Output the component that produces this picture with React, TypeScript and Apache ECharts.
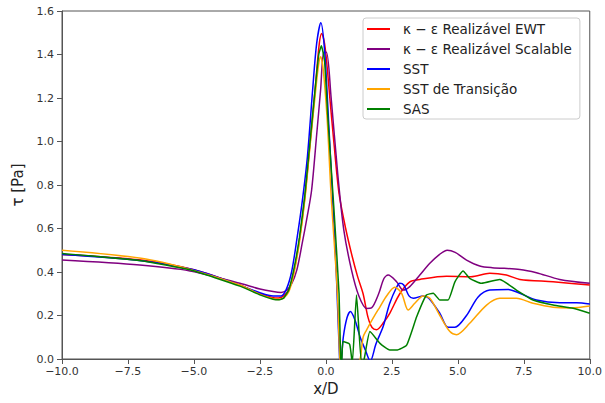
import React, { useEffect, useRef } from "react";
import * as echarts from "echarts";

const seriesNames = [
  "κ − ε Realizável EWT",
  "κ − ε Realizável Scalable",
  "SST",
  "SST de Transição",
  "SAS",
];
const seriesColors = ["#ff0000", "#800080", "#0000ff", "#ffa500", "#008000"];

const xTicks = [-10, -7.5, -5, -2.5, 0, 2.5, 5, 7.5, 10];

const redData = [
  [-10, 0.48], [-7, 0.455], [-5, 0.41], [-3.26, 0.34], [-2.5, 0.3], [-2, 0.282], [-1.8, 0.28],
  [-1.6, 0.29], [-1.4, 0.32], [-1.2, 0.41], [-1.0, 0.55], [-0.8, 0.74], [-0.6, 0.99],
  [-0.4, 1.25], [-0.25, 1.45], [-0.16, 1.497], [-0.05, 1.45], [0.05, 1.34], [0.15, 1.2],
  [0.3, 1.0], [0.5, 0.76], [0.75, 0.6], [1.0, 0.47], [1.2, 0.38], [1.41, 0.3], [1.6, 0.19],
  [1.75, 0.145], [1.92, 0.135], [2.2, 0.17], [2.42, 0.21], [2.8, 0.3], [3.18, 0.355],
  [3.56, 0.366], [4.57, 0.38], [5.5, 0.378], [6.21, 0.394], [6.84, 0.386], [7.35, 0.366],
  [8.61, 0.355], [10, 0.34],
];

const purpleData = [
  [-10, 0.455], [-7.05, 0.432], [-5.15, 0.405], [-3.26, 0.348], [-2.5, 0.322], [-2, 0.31],
  [-1.7, 0.306], [-1.5, 0.315], [-1.3, 0.345], [-1.1, 0.41], [-0.9, 0.53], [-0.7, 0.66],
  [-0.54, 0.777], [-0.35, 1.03], [-0.2, 1.237], [-0.08, 1.41], [0.02, 1.41], [0.2, 1.2],
  [0.45, 0.85], [0.68, 0.593], [0.97, 0.41], [1.25, 0.29], [1.55, 0.232], [1.73, 0.235],
  [2.0, 0.3], [2.2, 0.37], [2.36, 0.386], [2.68, 0.355], [2.93, 0.317], [3.18, 0.333],
  [3.56, 0.386], [3.94, 0.44], [4.3, 0.48], [4.6, 0.5], [4.9, 0.49], [5.33, 0.455],
  [5.83, 0.428], [6.3, 0.42], [7.35, 0.412], [7.98, 0.397], [8.86, 0.366], [10, 0.348],
];

const blueData = [
  [-10, 0.48], [-7, 0.452], [-5, 0.41], [-3.5, 0.35], [-2.5, 0.305], [-2, 0.29], [-1.7, 0.29],
  [-1.5, 0.32], [-1.3, 0.4], [-1.1, 0.55], [-0.9, 0.72], [-0.7, 0.93], [-0.5, 1.24],
  [-0.35, 1.45], [-0.19, 1.546], [-0.05, 1.42], [0.1, 1.1], [0.25, 0.75], [0.4, 0.38],
  [0.52, 0.0], [0.56, -0.03], [0.66, 0.1], [0.8, 0.19], [0.93, 0.218], [1.1, 0.18],
  [1.3, 0.1], [1.5, 0.04], [1.68, -0.01], [1.9, 0.07], [2.17, 0.149], [2.42, 0.256],
  [2.68, 0.33], [2.8, 0.348], [2.95, 0.34], [3.15, 0.29], [3.31, 0.279], [3.69, 0.29],
  [3.9, 0.279], [4.32, 0.21], [4.63, 0.146], [4.89, 0.146], [5.33, 0.2], [5.77, 0.285],
  [6.21, 0.317], [6.91, 0.32], [7.35, 0.302], [7.98, 0.271], [8.86, 0.259], [9.5, 0.259],
  [10, 0.253],
];

const orangeData = [
  [-10, 0.5], [-7, 0.463], [-5.15, 0.412], [-3.26, 0.34], [-2.5, 0.297], [-2, 0.277],
  [-1.8, 0.274], [-1.6, 0.28], [-1.4, 0.31], [-1.2, 0.4], [-1.0, 0.54], [-0.8, 0.73],
  [-0.6, 0.98], [-0.4, 1.22], [-0.28, 1.35], [-0.2, 1.39], [-0.1, 1.33], [0.05, 1.1],
  [0.2, 0.75], [0.43, 0.317], [0.53, 0.0], [0.6, -0.1], [1.0, -0.15], [1.3, 0.0],
  [1.41, 0.1], [1.54, 0.133], [1.8, 0.19], [2.05, 0.24], [2.3, 0.29], [2.61, 0.33],
  [2.87, 0.302], [3.12, 0.225], [3.37, 0.256], [3.69, 0.29], [3.94, 0.279], [4.32, 0.2],
  [4.7, 0.126], [4.95, 0.112], [5.45, 0.164], [6.09, 0.248], [6.59, 0.279], [7.22, 0.279],
  [7.85, 0.256], [8.61, 0.238], [9.3, 0.235], [10, 0.244],
];

const greenData = [
  [-10, 0.485], [-7, 0.452], [-5.15, 0.41], [-3.26, 0.335], [-2.5, 0.295], [-2, 0.275],
  [-1.8, 0.272], [-1.6, 0.28], [-1.4, 0.32], [-1.2, 0.42], [-1.0, 0.56], [-0.8, 0.75],
  [-0.6, 1.0], [-0.4, 1.25], [-0.27, 1.4], [-0.17, 1.44], [-0.05, 1.37], [0.08, 1.1],
  [0.3, 0.7], [0.5, 0.3], [0.56, 0.0], [0.6, -0.02], [0.65, 0.08], [0.9, 0.068],
  [1.0, -0.02], [1.16, 0.294], [1.35, -0.02], [1.45, 0.0], [1.67, 0.126], [2.05, 0.072],
  [2.42, 0.041], [2.68, 0.041], [3.06, 0.064], [3.44, 0.194], [3.81, 0.294], [4.07, 0.302],
  [4.32, 0.271], [4.63, 0.271], [4.89, 0.355], [5.2, 0.405], [5.45, 0.371], [5.9, 0.348],
  [6.59, 0.366], [7.22, 0.317], [7.85, 0.271], [8.61, 0.248], [9.37, 0.233], [10, 0.21],
];

const allData = [redData, purpleData, blueData, orangeData, greenData];
const smoothing = [0.3, 0.3, 0.3, 0.3, 0.15];

const FONT = "DejaVu Sans";

export default function App() {
  const ref = useRef<HTMLDivElement>(null);
  useEffect(() => {
    if (!ref.current) return;
    const chart = echarts.init(ref.current, undefined, { renderer: "svg" });
    const fmt = (v: number) => (v < 0 ? "\u2212" + Math.abs(v).toFixed(1) : v.toFixed(1));
    chart.setOption({
      animation: false,
      backgroundColor: "#ffffff",
      grid: {
        left: 62,
        right: 15,
        top: 11,
        bottom: 44,
        show: true,
        borderColor: "#555",
        borderWidth: 1,
        backgroundColor: "transparent",
      },
      legend: {
        orient: "vertical",
        left: 363,
        top: 18,
        data: seriesNames,
        icon: "rect",
        itemWidth: 23,
        itemHeight: 2,
        itemGap: 4,
        padding: [3, 8, 2, 4],
        borderColor: "#cccccc",
        borderWidth: 1,
        borderRadius: 3,
        backgroundColor: "rgba(255,255,255,0.8)",
        textStyle: {
          fontFamily: FONT,
          fontSize: 13.5,
          lineHeight: 16,
          color: "#222",
          padding: [0, 0, 0, 8],
        },
      },
      xAxis: {
        type: "value",
        min: -10,
        max: 10,
        interval: 2.5,
        name: "x/D",
        nameLocation: "middle",
        nameGap: 19,
        nameTextStyle: { fontFamily: FONT, fontSize: 15, color: "#222" },
        axisLine: { show: true, onZero: false, lineStyle: { color: "#555" } },
        axisTick: { show: true, length: 5, lineStyle: { color: "#555" } },
        axisLabel: {
          fontFamily: FONT,
          fontSize: 11,
          color: "#333",
          margin: 7,
          formatter: (v: number) => (xTicks.includes(v) ? fmt(v) : ""),
        },
        splitLine: { show: false },
      },
      yAxis: {
        type: "value",
        min: 0,
        max: 1.6,
        interval: 0.2,
        name: "τ [Pa]",
        nameLocation: "middle",
        nameGap: 36,
        nameRotate: 90,
        nameTextStyle: { fontFamily: FONT, fontSize: 15, color: "#222" },
        axisLine: { show: true, onZero: false, lineStyle: { color: "#555" } },
        axisTick: { show: true, length: 5, lineStyle: { color: "#555" } },
        axisLabel: {
          fontFamily: FONT,
          fontSize: 11,
          color: "#333",
          margin: 8,
          formatter: (v: number) => v.toFixed(1),
        },
        splitLine: { show: false },
      },
      series: allData.map((d, i) => ({
        name: seriesNames[i],
        type: "line",
        data: d,
        showSymbol: false,
        symbol: "none",
        smooth: smoothing[i],
        clip: true,
        lineStyle: { color: seriesColors[i], width: 1.5 },
        itemStyle: { color: seriesColors[i] },
      })),
    });
    return () => chart.dispose();
  }, []);
  return <div ref={ref} style={{ width: 605, height: 403, position: "absolute", left: 0, top: 0 }} />;
}
